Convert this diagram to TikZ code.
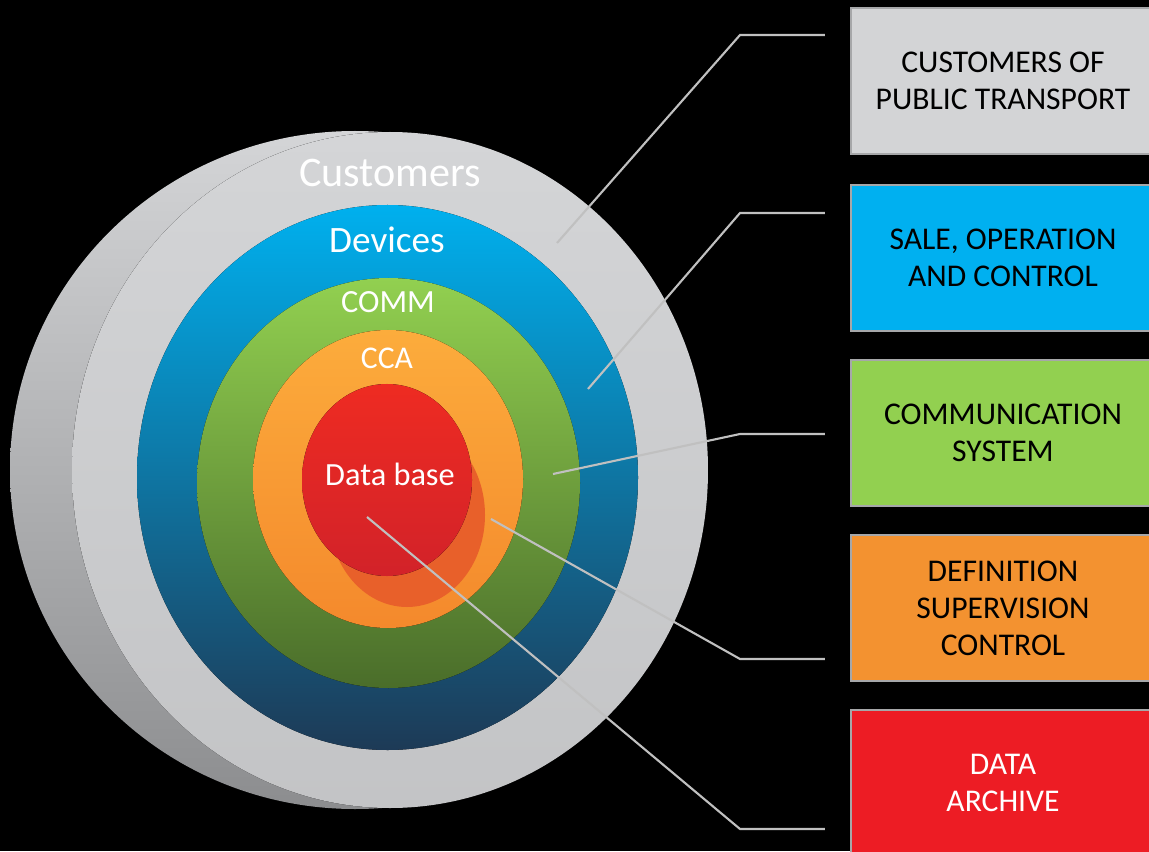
\documentclass[tikz,border=0pt]{standalone}
\usepackage{fontspec}
\setmainfont{Carlito}
\usepackage{xcolor}
\usepackage{tikz}

\definecolor{ringgray}{HTML}{D4D5D7}
\definecolor{backgray}{HTML}{8C8D8F}
\definecolor{blueTop}{HTML}{00B0EE}
\definecolor{blueBot}{HTML}{1D3A56}
\definecolor{greenTop}{HTML}{92D050}
\definecolor{greenBot}{HTML}{4A6D2A}
\definecolor{orangeTop}{HTML}{FCAC3C}
\definecolor{orangeBot}{HTML}{F4892C}
\definecolor{redTop}{HTML}{EE2B22}
\definecolor{redBot}{HTML}{D22229}
\definecolor{redShadow}{HTML}{E8602A}
\definecolor{boxgray}{HTML}{D3D4D6}
\definecolor{boxblue}{HTML}{00B0F0}
\definecolor{boxgreen}{HTML}{92D050}
\definecolor{boxorange}{HTML}{F39230}
\definecolor{boxred}{HTML}{ED1C24}
\definecolor{boxedge}{HTML}{A6A7A9}
\definecolor{linkgray}{HTML}{C0C0C0}

\begin{document}
\begin{tikzpicture}[
  link/.style={draw=linkgray, line width=0.6pt, shorten >=2.5mm},
  ringlabel/.style={text=white, inner sep=0pt},
  box/.style={draw=boxedge, line width=0.6pt, minimum width=3.04cm,
    minimum height=1.46cm, align=center, inner sep=0pt,
    font=\fontsize{9}{10.5}\selectfont}
]
  % Tło
  \clip (0,0) rectangle (11.49,8.51);
  \fill[black] (0,0) rectangle (11.49,8.51);

  % Pierścienie
  \fill[top color=ringgray, bottom color=backgray] (3.55,3.81) ellipse (3.45 and 3.39);
  \fill[top color=ringgray, bottom color=ringgray!92!black] (3.90,3.81) ellipse (3.18 and 3.38);
  \fill[top color=blueTop, bottom color=blueBot] (3.875,3.735) ellipse (2.505 and 2.725);
  \fill[top color=greenTop, bottom color=greenBot] (3.885,3.68) ellipse (1.915 and 2.05);
  \fill[top color=orangeTop, bottom color=orangeBot] (3.88,3.72) ellipse (1.35 and 1.49);
  \fill[redShadow] (4.07,3.36) ellipse (0.78 and 0.92);
  \fill[top color=redTop, bottom color=redBot] (3.87,3.71) ellipse (0.85 and 0.96);

  % Napisy na pierścieniach
  \node[ringlabel, font=\fontsize{12}{14}\selectfont] (cust) at (3.90,6.78) {Customers};
  \node[ringlabel, font=\fontsize{10.6}{12}\selectfont] (dev) at (3.87,6.11) {Devices};
  \node[ringlabel, font=\fontsize{9.2}{11}\selectfont] (comm) at (3.88,5.49) {COMM};
  \node[ringlabel, font=\fontsize{9}{11}\selectfont] (cca) at (3.87,4.93) {CCA};
  \node[ringlabel, font=\fontsize{9.2}{11}\selectfont] (db) at (3.90,3.77) {Data base};

  % Prostokąty z opisami
  \node[box, fill=boxgray] (b1) at (10.03,7.70) {CUSTOMERS OF\\PUBLIC TRANSPORT};
  \node[box, fill=boxblue] (b2) at (10.03,5.93) {SALE, OPERATION\\AND CONTROL};
  \node[box, fill=boxgreen] (b3) at (10.03,4.18) {COMMUNICATION\\SYSTEM};
  \node[box, fill=boxorange] (b4) at (10.03,2.43) {DEFINITION\\SUPERVISION\\CONTROL};
  \node[box, fill=boxred, text=white] (b5) at (10.03,0.68) {DATA\\ARCHIVE};

  % Punkty startowe i załamania linii
  \coordinate (c1) at (5.57,6.08);
  \coordinate (c2) at (5.88,4.62);
  \coordinate (c3) at (5.53,3.77);
  \coordinate (c4) at (4.91,3.32);
  \coordinate (c5) at (3.67,3.34);
  \coordinate (k1) at (7.40,8.16);
  \coordinate (k2) at (7.40,6.38);
  \coordinate (k3) at (7.40,4.17);
  \coordinate (k4) at (7.40,1.92);
  \coordinate (k5) at (7.40,0.22);

  % Linie
  \foreach \i in {1,...,5}
    \draw[link] (c\i) -- (k\i) -- (k\i -| b\i.west);
\end{tikzpicture}
\end{document}
